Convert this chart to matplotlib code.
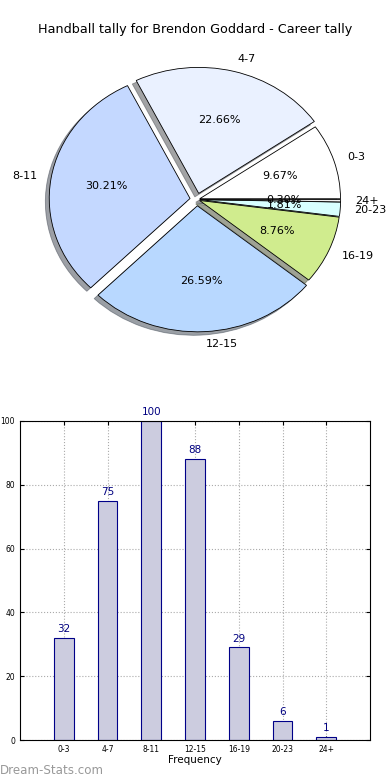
import matplotlib
matplotlib.use("Agg")
import matplotlib.pyplot as plt

# donnees
categories = ['0-3', '4-7', '8-11', '12-15', '16-19', '20-23', '24+']
frequences = [32, 75, 100, 88, 29, 6, 1]
couleurs_pie = ['#ffffff', '#eaf1ff', '#c4d8ff', '#b8d8ff', '#d0ec8e', '#d8ffff', '#f0f0f0']
explode = [0.02, 0.05, 0.05, 0.05, 0.02, 0.02, 0.02]
titre = "Handball tally for Brendon Goddard - Career tally"

fig = plt.figure(figsize=(3.9, 7.8), dpi=100)

# camembert (aspect non egal, comme les vieilles versions)
ax1 = fig.add_axes([21 / 390, 1 - 357 / 780, 352 / 390, 315 / 780])
wedges, txts, pcts = ax1.pie(frequences, labels=categories, colors=couleurs_pie,
                             explode=explode, autopct='%1.2f%%', shadow=True,
                             startangle=0, labeldistance=1.1, pctdistance=0.6,
                             wedgeprops={'edgecolor': 'black', 'linewidth': 0.6},
                             textprops={'fontsize': 8})
ax1.set_aspect('auto')
ax1.set_xlim(-1.25, 1.25)
ax1.set_ylim(-1.25, 1.25)
ax1.axis('off')
fig.text(195 / 390, 1 - 30 / 780, titre, ha='center', va='center', fontsize=9.2)

# histogramme
ax2 = fig.add_axes([20 / 390, 1 - 740 / 780, 350 / 390, 319 / 780])
x = range(len(categories))
bars = ax2.bar(x, frequences, width=0.45, color='#ccccdf', edgecolor='#000088', linewidth=0.8, zorder=2)
for xi, v in zip(x, frequences):
    ax2.text(xi, v + 1.2, str(v), ha='center', va='bottom', fontsize=7.5, color='#000080')
ax2.set_xlim(-1, 7)
ax2.set_ylim(0, 100)
ax2.set_xticks(list(x))
ax2.set_xticklabels(categories)
ax2.set_yticks([0, 20, 40, 60, 80, 100])
ax2.tick_params(direction='in', top=True, right=True, labelsize=5.5, length=3)
ax2.grid(True, linestyle=':', color='#aaaaaa', linewidth=0.8, zorder=0)
ax2.set_axisbelow(True)
ax2.set_xlabel('Frequency', fontsize=7.5, labelpad=1)

fig.text(0.0, 1 - 770 / 780, 'Dream-Stats.com', ha='left', va='center', fontsize=8.6,
         color='#999999')

fig.savefig('out.png', dpi=100)
